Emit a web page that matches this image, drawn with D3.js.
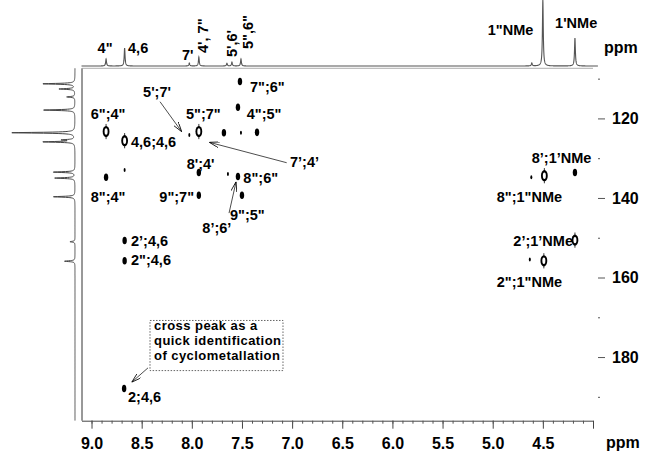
<!DOCTYPE html>
<html>
<head>
<meta charset="utf-8">
<script src="https://cdn.jsdelivr.net/npm/d3@7"></script>
<style>
body { margin: 0; background: #fff; }
svg text { font-family: "Liberation Sans", Arial, sans-serif; font-weight: bold; fill: #000; }
</style>
</head>
<body>
<svg id="hmbc_graph" width="648" height="452"></svg>
<script>
// tick values (ppm)
const xTicks = [9.0, 8.5, 8.0, 7.5, 7.0, 6.5, 6.0, 5.5, 5.0, 4.5, 4.0];
const yTicks = [120, 140, 160, 180];
const yMinor = [110, 130, 150, 170, 190];

// cross peaks: [1H ppm, 13C ppm, contour level]
const crossPeaks = [
    [8.855, 123.3, 3], [8.67, 125.6, 3], [8.025, 124.2, 1], [7.93, 123.3, 3],
    [7.68, 123.6, 2], [7.51, 123.6, 1], [7.35, 123.5, 2], [7.54, 117.2, 2],
    [7.52, 110.7, 2], [8.855, 134.8, 2], [8.67, 133.0, 1], [7.93, 133.6, 2],
    [7.93, 139.3, 2], [7.64, 134.0, 1], [7.54, 134.6, 2], [7.50, 139.3, 2],
    [8.67, 150.7, 2], [8.67, 155.8, 2], [8.675, 187.9, 2],
    [4.615, 134.8, 1], [4.485, 134.4, 3], [4.18, 133.6, 2],
    [4.18, 150.6, 3], [4.63, 155.5, 1], [4.49, 155.8, 3]
];

// 1H projection: [ppm, relative height]
const protonPeaks = [
    [8.855, 0.106], [8.67, 0.273], [8.025, 0.045], [7.93, 0.136],
    [7.65, 0.04], [7.60, 0.06], [7.51, 0.106], [4.61, 0.045],
    [4.50, 1.0], [4.18, 0.424]
];

// 13C projection: [ppm, relative height]
const carbonPeaks = [
    [111.3, 0.52], [112.6, 0.25], [114.6, 0.13], [117.9, 0.51],
    [123.6, 1.0], [125.4, 0.19], [125.9, 0.51], [133.5, 0.35],
    [135.0, 0.32], [139.7, 0.35], [151.0, 0.08], [155.9, 0.17]
];

// cross peak labels: [text, 1H ppm, 13C ppm]
const peakLabels = [
    ["7\";6\"", 7.420, 113.29], ["5';7'", 8.486, 114.54], ["6\";4\"", 9.008, 120.23],
    ["5\";7\"", 8.058, 120.15], ["4\";5\"", 7.452, 120.15], ["4,6;4,6", 8.606, 127.12],
    ["7’;4’", 7.021, 132.14], ["8';4'", 8.051, 132.80], ["8\";6\"", 7.486, 136.32],
    ["8\";4\"", 9.008, 140.95], ["9\";7\"", 8.324, 140.95], ["9\";5\"", 7.619, 145.55],
    ["8’;6’", 7.895, 148.89], ["2’;4,6", 8.606, 152.01], ["2\";4,6", 8.606, 156.86],
    ["2;4,6", 8.636, 191.23], ["8’;1’NMe", 4.611, 131.2], ["8\";1\"NMe", 4.960, 141.0],
    ["2’;1’NMe", 4.794, 152.0], ["2\";1\"NMe", 4.960, 162.4]
];

// 1H projection labels: [text, ppm, height, rotated, anchor]
const protonLabels = [
    ["4\"", 8.865, 0.197, false, "middle"], ["4,6", 8.636, 0.19, false, "start"],
    ["7'", 8.098, 0.09, false, "start"], ["4', 7\"", 7.843, 0.197, true, "start"],
    ["5',6'", 7.549, 0.136, true, "start"], ["5\",6\"", 7.390, 0.258, true, "start"],
    ["1\"NMe", 5.049, 0.47, false, "start"], ["1'NMe", 4.378, 0.576, false, "start"]
];

// arrows: [from 1H, from 13C, to 1H, to 13C]
const arrows = [
    [8.317, 115.80, 8.101, 123.34],
    [7.054, 131.14, 7.825, 126.01],
    [7.629, 143.80, 7.559, 135.92],
    [8.437, 182.72, 8.599, 186.31]
];

const noteLines = ["cross peak as a", "quick identification", "of cyclometallation"];
const noteBox = {h1: 8.417, c1: 170.8, h2: 7.091, c2: 183.4};
const noteBaselines = [173.3, 177.07, 180.85];

function lorentz(peaks, p, w) {
    let s = 0;
    peaks.forEach(([p0, h]) => { s += h / (1 + ((p - p0) / w) ** 2); });
    return s;
}

function hmbcPlot() {
    const svg = d3.select("#hmbc_graph");
    const x = d3.scaleLinear().domain([9.1, 4.0]).range([81.5, 593]);
    const y = d3.scaleLinear().domain([107.4, 196]).range([68.3, 420.7]);
    const topY = d3.scaleLinear().domain([0, 1]).range([66, 0]);
    const leftX = d3.scaleLinear().domain([0, 1]).range([75, 12]);

    svg.append("defs").append("marker")
        .attr("id", "arrow")
        .attr("viewBox", "0 0 10 6")
        .attr("refX", 10).attr("refY", 3)
        .attr("markerWidth", 10).attr("markerHeight", 6)
        .attr("markerUnits", "userSpaceOnUse")
        .attr("orient", "auto")
        .append("path")
        .attr("d", "M0,0 L10,3 L0,6")
        .attr("fill", "none")
        .attr("stroke", "#000")
        .attr("stroke-width", 0.8);

    // frame
    svg.append("line")
        .attr("x1", 82).attr("x2", 82).attr("y1", 68.3).attr("y2", 420.7)
        .attr("stroke", "#333").attr("stroke-width", 1);
    svg.append("line")
        .attr("x1", 82).attr("x2", 593).attr("y1", 68.3).attr("y2", 68.3)
        .attr("stroke", "#999").attr("stroke-width", 0.8);

    // 1H projection on top
    const topData = d3.range(9.1, 3.95, -0.001).map(p => [p, lorentz(protonPeaks, p, 0.005)]);
    svg.append("path")
        .datum(topData)
        .attr("fill", "none")
        .attr("stroke", "#555")
        .attr("stroke-width", 1.1)
        .attr("d", d3.line().x(d => x(d[0])).y(d => topY(d[1])));

    // 13C projection on the left
    const leftData = d3.range(107.4, 196, 0.04).map(c => [c, lorentz(carbonPeaks, c, 0.12)]);
    svg.append("path")
        .datum(leftData)
        .attr("fill", "none")
        .attr("stroke", "#444")
        .attr("stroke-width", 1)
        .attr("d", d3.line().x(d => leftX(d[1])).y(d => y(d[0])));

    // x axis
    const xAxis = svg.append("g")
        .attr("transform", "translate(0,420.7)")
        .call(d3.axisBottom(x).tickValues(xTicks).tickSize(8).tickSizeOuter(0).tickPadding(9)
            .tickFormat(d => d === 4.0 ? "" : d3.format(".1f")(d)));
    xAxis.selectAll("text").style("font-size", "16px");
    xAxis.selectAll("line, path").attr("stroke", "#444");
    svg.append("g")
        .attr("transform", "translate(0,420.7)")
        .call(d3.axisBottom(x).tickValues(d3.range(41, 91).map(d => d / 10)).tickSize(3).tickFormat(""))
        .call(g => g.select(".domain").remove())
        .selectAll("line").attr("stroke", "#555");

    // y axis on the right
    const yAxis = svg.append("g")
        .attr("transform", "translate(598,0)")
        .call(d3.axisRight(y).tickValues(yTicks).tickSize(7).tickPadding(7))
        .call(g => g.select(".domain").remove());
    yAxis.selectAll("text").style("font-size", "16px");
    yAxis.selectAll("line").attr("stroke", "#555");
    svg.append("g")
        .attr("transform", "translate(598,0)")
        .call(d3.axisRight(y).tickValues(yMinor).tickSize(2).tickFormat(""))
        .call(g => g.select(".domain").remove())
        .selectAll("line").attr("stroke", "#555");

    svg.append("text").attr("x", 606).attr("y", 448).style("font-size", "16px").text("ppm");
    svg.append("text").attr("x", 604).attr("y", 53).style("font-size", "16px").text("ppm");

    // cross peaks
    const rx = d3.scaleLinear().domain([1, 3]).range([1, 3.4]);
    const ry = d3.scaleLinear().domain([1, 3]).range([2, 5.6]);
    const peaks = svg.append("g");
    peaks.selectAll("line")
        .data(crossPeaks.filter(d => d[2] === 3))
        .join("line")
        .attr("x1", d => x(d[0])).attr("x2", d => x(d[0]))
        .attr("y1", d => y(d[1]) - ry(3) - 2).attr("y2", d => y(d[1]) + ry(3) + 2)
        .attr("stroke", "#000").attr("stroke-width", 0.8);
    peaks.selectAll("ellipse.outer")
        .data(crossPeaks)
        .join("ellipse")
        .attr("class", "outer")
        .attr("cx", d => x(d[0])).attr("cy", d => y(d[1]))
        .attr("rx", d => rx(d[2])).attr("ry", d => ry(d[2]))
        .attr("fill", "#000");
    peaks.selectAll("ellipse.inner")
        .data(crossPeaks.filter(d => d[2] === 3))
        .join("ellipse")
        .attr("class", "inner")
        .attr("cx", d => x(d[0])).attr("cy", d => y(d[1]))
        .attr("rx", 1.5).attr("ry", 3.2)
        .attr("fill", "#fff");

    // labels
    svg.append("g").selectAll("text")
        .data(peakLabels)
        .join("text")
        .attr("x", d => x(d[1])).attr("y", d => y(d[2]))
        .style("font-size", "14.5px")
        .text(d => d[0]);

    svg.append("g").selectAll("text")
        .data(protonLabels)
        .join("text")
        .attr("transform", d => `translate(${x(d[1])},${topY(d[2])})` + (d[3] ? " rotate(-90)" : ""))
        .attr("text-anchor", d => d[4])
        .style("font-size", "14.5px")
        .text(d => d[0]);

    // arrows
    svg.append("g").selectAll("line")
        .data(arrows)
        .join("line")
        .attr("x1", d => x(d[0])).attr("y1", d => y(d[1]))
        .attr("x2", d => x(d[2])).attr("y2", d => y(d[3]))
        .attr("stroke", "#000").attr("stroke-width", 0.7)
        .attr("marker-end", "url(#arrow)");

    // note box
    svg.append("rect")
        .attr("x", x(noteBox.h1)).attr("y", y(noteBox.c1))
        .attr("width", x(noteBox.h2) - x(noteBox.h1))
        .attr("height", y(noteBox.c2) - y(noteBox.c1))
        .attr("fill", "none")
        .attr("stroke", "#666")
        .attr("stroke-width", 1)
        .attr("stroke-dasharray", "1.5,1.5");
    svg.append("g").selectAll("text")
        .data(noteLines)
        .join("text")
        .attr("x", x(noteBox.h1) + 4)
        .attr("y", (d, i) => y(noteBaselines[i]))
        .style("font-size", "13px")
        .style("letter-spacing", "0.45px")
        .text(d => d);
}

hmbcPlot();
</script>
</body>
</html>
